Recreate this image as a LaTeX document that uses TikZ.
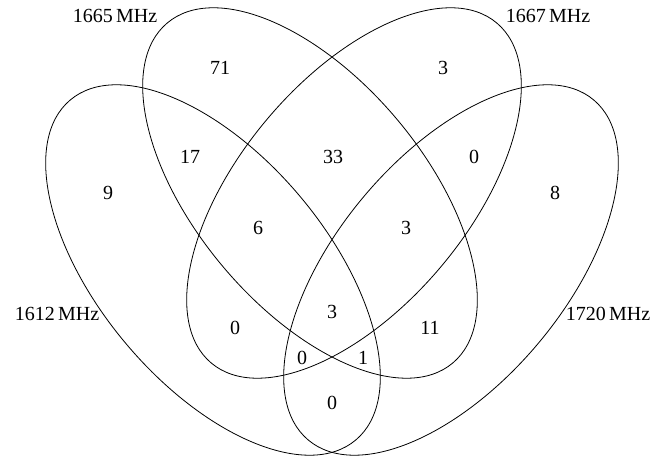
\documentclass[tikz,border=0pt]{standalone}
\usepackage{fontspec}
\setmainfont{Liberation Serif}
\usetikzlibrary{shapes.geometric}
\begin{document}
\begin{tikzpicture}[x=1pt,y=1pt,
  setell/.style={draw=black, line width=0.8pt, ellipse, minimum width=444pt, minimum height=228pt, inner sep=0pt},
  num/.style={font=\fontsize{20}{24}\selectfont, inner sep=0pt},
  lab/.style={font=\fontsize{20}{24}\selectfont, inner sep=0pt}]
\useasboundingbox (0,0) rectangle (666,455);
\node[setell, rotate=-50] (e1612) at (213,185) {};
\node[setell, rotate=-50] (e1665) at (310,262) {};
\node[setell, rotate=50] (e1667) at (354,262) {};
\node[setell, rotate=50] (e1720) at (451,185) {};
% set labels
\node[lab] (l1665) at (115,439) {1665\,MHz};
\node[lab] (l1667) at (548,439) {1667\,MHz};
\node[lab] (l1612) at (57,141) {1612\,MHz};
\node[lab] (l1720) at (608,141) {1720\,MHz};
% region counts
\node[num] (n71) at (220,387) {71};
\node[num] (n3a) at (443,387) {3};
\node[num] (n17) at (190,298) {17};
\node[num] (n33) at (333,298) {33};
\node[num] (n0a) at (474,298) {0};
\node[num] (n9) at (108,262) {9};
\node[num] (n8) at (555,262) {8};
\node[num] (n6) at (258,227) {6};
\node[num] (n3b) at (406,227) {3};
\node[num] (n3c) at (332,143) {3};
\node[num] (n0b) at (235,127) {0};
\node[num] (n11) at (430,127) {11};
\node[num] (n0c) at (302,97) {0};
\node[num] (n1) at (363,97) {1};
\node[num] (n0d) at (332,52) {0};
\end{tikzpicture}
\end{document}
